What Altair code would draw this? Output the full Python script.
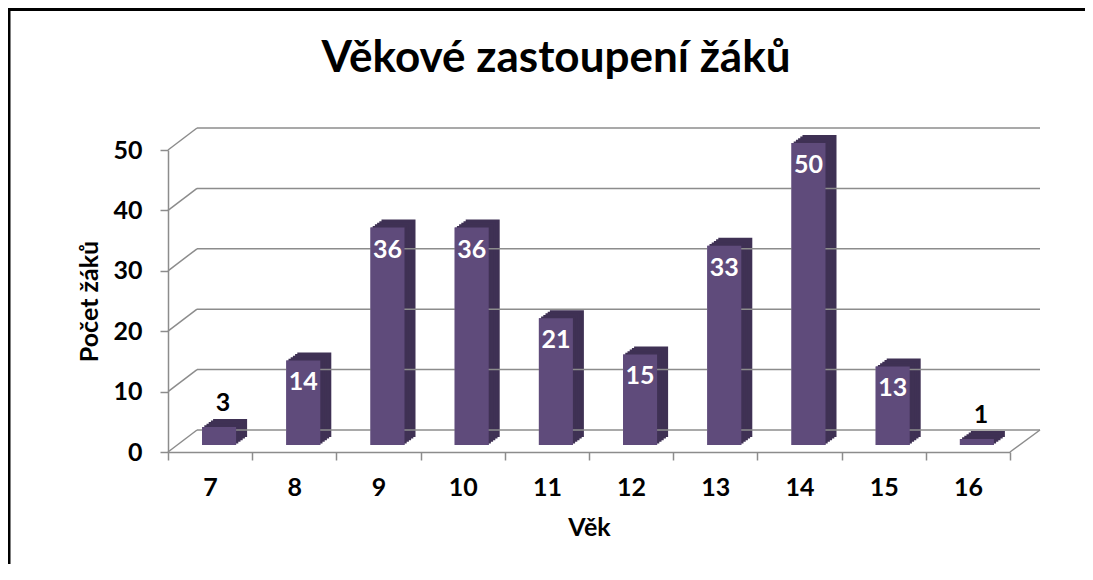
import altair as alt
import pandas as pd

# ---- data ----
ages = ["7", "8", "9", "10", "11", "12", "13", "14", "15", "16"]
counts = [3, 14, 36, 36, 21, 15, 33, 50, 13, 1]
y_ticks = [0, 10, 20, 30, 40, 50]

df = pd.DataFrame({"vek": ages, "pocet": counts})
grid_df = pd.DataFrame({"pocet": y_ticks})
one_df = pd.DataFrame({"k": [0]})

# ---- style ----
FONT = "Lato"
FRONT = "#5F4B7B"
SIDE = "#3F3154"
GRID = "#8C8C8C"
W, H = 842, 302
DX, DY = 29, -22          # depth of back wall
BW = 34                   # bar front width
BX, BY = 9, -7            # front face offset
SX, SY = 11, -8           # bar depth
LS = 25                   # label font size

x_enc = alt.X(
    "vek:N", sort=ages, title="Věk",
    scale=alt.Scale(paddingInner=0, paddingOuter=0),
    axis=alt.Axis(labelAngle=0, labelFont=FONT, labelFontSize=LS, labelFontWeight="bold",
                  labelColor="black", labelPadding=15, tickSize=8, tickColor=GRID,
                  tickWidth=1.5, domainColor=GRID, domainWidth=1.5, tickBand="extent",
                  titleFont=FONT, titleFontSize=25, titleFontWeight="bold",
                  titleColor="black", titlePadding=15),
)
y_enc = alt.Y(
    "pocet:Q", title="Počet žáků",
    scale=alt.Scale(domain=[0, 50], nice=False),
    axis=alt.Axis(values=y_ticks, grid=False, labelFont=FONT, labelFontSize=LS,
                  labelFontWeight="bold", labelColor="black", labelPadding=18,
                  tickSize=8, tickColor=GRID, tickWidth=1.5, domainColor=GRID,
                  domainWidth=1.5, titleFont=FONT, titleFontSize=25,
                  titleFontWeight="bold", titleColor="black", titlePadding=10),
)

base_grid = alt.Chart(grid_df)

back_lines = base_grid.mark_rule(color=GRID, strokeWidth=1.5, yOffset=DY).encode(
    y=y_enc, x=alt.value(DX), x2=alt.value(W + 30)
)
diag_lines = base_grid.mark_rule(color=GRID, strokeWidth=1.5, y2Offset=DY).encode(
    y=y_enc, y2=alt.Y2("pocet:Q"), x=alt.value(0), x2=alt.value(DX)
)
floor_right = base_grid.transform_filter("datum.pocet == 0").mark_rule(
    color=GRID, strokeWidth=1.5, y2Offset=DY
).encode(y=y_enc, y2=alt.Y2("pocet:Q"), x=alt.value(W), x2=alt.value(W + 30))

base = alt.Chart(df)
depth_layers = []
steps = 5
for i in range(steps, 0, -1):
    ox = BX + SX * i / steps
    oy = BY + SY * i / steps
    depth_layers.append(
        base.mark_bar(color=SIDE, width=BW, xOffset=ox, yOffset=oy, y2Offset=oy).encode(
            x=x_enc, y=y_enc
        )
    )

front = base.mark_bar(color=FRONT, width=BW, xOffset=BX, yOffset=BY, y2Offset=BY).encode(
    x=x_enc, y=y_enc
)

lbl_in = base.transform_filter("datum.pocet >= 5").mark_text(
    font=FONT, fontSize=LS, fontWeight="bold", color="white", dx=BX, dy=BY + 22,
    baseline="middle"
).encode(x=x_enc, y=y_enc, text="pocet:Q")

lbl_out = base.transform_filter("datum.pocet < 5").mark_text(
    font=FONT, fontSize=LS, fontWeight="bold", color="black", dx=BX + 4, dy=BY - 24,
    baseline="middle"
).encode(x=x_enc, y=y_enc, text="pocet:Q")

frame_left = alt.Chart(one_df).mark_rule(color="black", strokeWidth=3).encode(
    x=alt.value(-159), y=alt.value(-142), y2=alt.value(430)
)
frame_top = alt.Chart(one_df).mark_rule(color="black", strokeWidth=3).encode(
    x=alt.value(-160), x2=alt.value(W + 75), y=alt.value(-140.5)
)

chart = alt.layer(
    front, *depth_layers, back_lines, diag_lines, floor_right, front, lbl_in, lbl_out,
    frame_left, frame_top
).properties(
    width=W, height=H,
    autosize=alt.AutoSizeParams(type="none"),
    padding={"left": 160, "top": 142, "right": 75, "bottom": 112},
    title=alt.TitleParams(
        "Věkové zastoupení žáků", font=FONT, fontSize=44, fontWeight="bold",
        color="black", anchor="middle", frame="group", dx=-33, offset=-109,
        baseline="alphabetic"
    ),
).configure_view(stroke=None)

chart.save("out.html", embed_options={"renderer": "svg", "actions": False})
